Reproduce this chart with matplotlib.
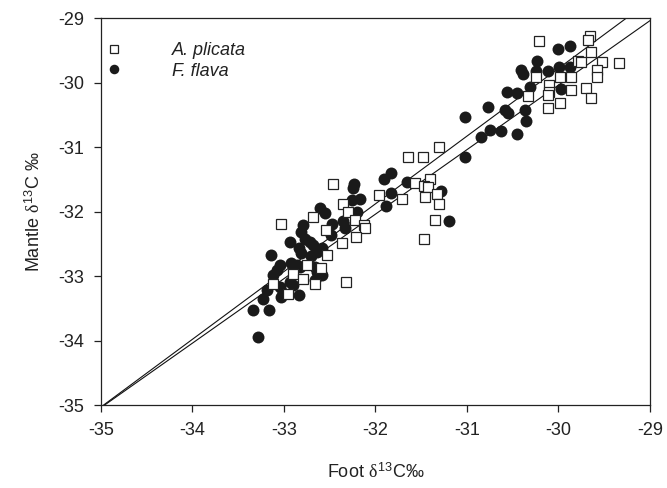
import numpy as np
import matplotlib.pyplot as plt

plt.rcParams['font.family'] = ['Liberation Sans', 'DejaVu Sans']
plt.rcParams['axes.unicode_minus'] = False
plt.rcParams['mathtext.fontset'] = 'custom'
plt.rcParams['mathtext.rm'] = 'Liberation Sans'
plt.rcParams['mathtext.it'] = 'Liberation Serif'

# foot vs mantle d13C, A. plicata (open squares)
plicata_foot = [-29.66, -29.68, -30.21, -29.64, -29.79, -29.75, -29.52, -29.34, -29.58, -29.58,
                -30.25, -29.98, -29.86, -30.10, -30.10, -30.11, -29.86, -29.70, -29.64, -30.33,
                -29.98, -30.11, -31.31, -31.65, -31.48, -32.46, -31.57, -31.40, -31.47, -31.43,
                -31.46, -31.33, -31.31, -31.96, -31.71, -32.36, -32.30, -31.35, -31.47, -32.22,
                -32.13, -32.11, -32.21, -32.37, -32.68, -33.03, -32.54, -32.53, -32.75, -32.60,
                -32.90, -32.79, -32.66, -32.32, -32.96, -33.12]
plicata_mantle = [-29.28, -29.34, -29.36, -29.52, -29.67, -29.68, -29.68, -29.69, -29.81, -29.92,
                  -29.92, -29.92, -29.91, -30.04, -30.14, -30.20, -30.12, -30.09, -30.24, -30.21,
                  -30.31, -30.40, -31.00, -31.15, -31.15, -31.57, -31.55, -31.50, -31.60, -31.62,
                  -31.77, -31.73, -31.88, -31.74, -31.80, -31.88, -32.00, -32.13, -32.43, -32.13,
                  -32.21, -32.26, -32.40, -32.49, -32.08, -32.20, -32.28, -32.67, -32.83, -32.88,
                  -32.97, -33.04, -33.13, -33.10, -33.28, -33.13]

# F. flava (filled circles)
flava_foot = [-29.87, -30.01, -30.23, -30.41, -30.39, -30.25, -30.12, -29.99, -29.87, -30.31,
              -30.56, -30.45, -29.97, -30.77, -30.59, -30.55, -30.37, -31.02, -30.36, -30.75,
              -30.63, -30.85, -30.45, -31.02, -31.28, -31.20, -31.83, -31.91, -32.24, -32.25,
              -31.66, -31.83, -31.88, -32.26, -32.17, -32.20, -32.61, -32.55, -32.35, -32.47,
              -32.33, -32.49, -32.79, -32.81, -32.77, -32.72, -32.68, -32.93, -32.84, -32.81,
              -32.59, -32.64, -32.70, -33.14, -33.04, -33.08, -33.12, -32.92, -32.86, -32.83,
              -32.66, -32.64, -32.58, -32.66, -33.19, -33.23, -33.04, -33.01, -33.03, -32.93,
              -32.90, -32.84, -33.34, -33.16, -33.28]
flava_mantle = [-29.43, -29.48, -29.66, -29.81, -29.86, -29.82, -29.82, -29.76, -29.76, -30.07,
                -30.14, -30.16, -30.10, -30.38, -30.42, -30.47, -30.43, -30.53, -30.59, -30.74,
                -30.75, -30.84, -30.79, -31.16, -31.68, -32.14, -31.40, -31.49, -31.57, -31.64,
                -31.54, -31.71, -31.91, -31.82, -31.81, -32.00, -31.95, -32.03, -32.15, -32.20,
                -32.26, -32.36, -32.21, -32.31, -32.42, -32.47, -32.52, -32.47, -32.57, -32.65,
                -32.57, -32.62, -32.69, -32.68, -32.83, -32.91, -32.98, -32.80, -32.83, -32.86,
                -32.86, -32.93, -32.98, -33.06, -33.22, -33.35, -33.17, -33.27, -33.32, -33.09,
                -33.14, -33.29, -33.53, -33.53, -33.95]

# regression lines (slope, intercept)
plicata_fit = (1.0, -0.04)
flava_fit = (1.05, 1.72)

fig = plt.figure(figsize=(6.67, 4.88), dpi=100)
ax = fig.add_axes([0.1514, 0.170, 0.8231, 0.793])

ax.plot(flava_foot, flava_mantle, 'o', color='#1a1a1a', markersize=8.6,
        markeredgewidth=0, label='F. flava', zorder=3)
ax.plot(plicata_foot, plicata_mantle, 's', markerfacecolor='white', markeredgecolor='#222222',
        markersize=7.3, markeredgewidth=0.9, label='A. plicata', zorder=4)

xx = np.array([-35.0, -29.0])
for slope, icpt in (plicata_fit, flava_fit):
    ax.plot(xx, slope * xx + icpt, color='#111111', linewidth=0.8, zorder=2)

ax.set_xlim(-35, -29)
ax.set_ylim(-35, -29)
ax.set_xticks(np.arange(-35, -28, 1))
ax.set_yticks(np.arange(-35, -28, 1))
ax.tick_params(direction='out', length=5, width=0.9, labelsize=13, pad=7, colors='#222222')
for s in ax.spines.values():
    s.set_linewidth(0.9)
    s.set_color('#222222')

ax.set_xlabel(r'Foot $\mathit{\delta}^{\mathrm{13}}$C‰', fontsize=13, labelpad=17, color='#222222')
ax.set_ylabel(r'Mantle $\mathit{\delta}^{\mathrm{13}}$C ‰', fontsize=13, labelpad=10, color='#222222')

h, l = ax.get_legend_handles_labels()
leg = ax.legend(h[::-1], l[::-1], loc='upper left', bbox_to_anchor=(-0.035, 0.975), frameon=False,
                handletextpad=2.2, markerscale=0.8, labelspacing=0.2, borderpad=0.3,
                prop={'style': 'italic', 'size': 13})
for t in leg.get_texts():
    t.set_color('#222222')

fig.savefig('out.png', dpi=100)
